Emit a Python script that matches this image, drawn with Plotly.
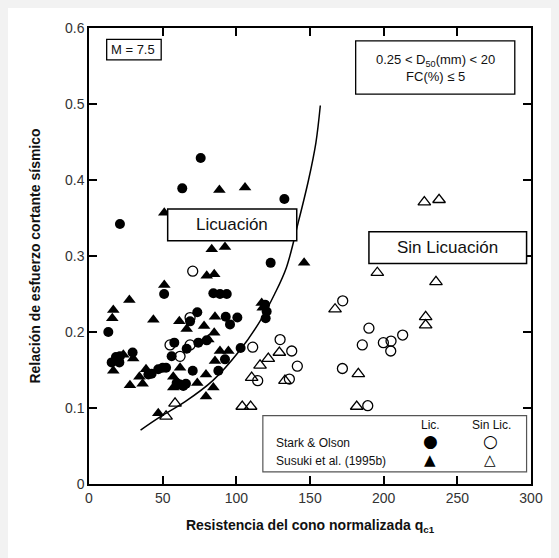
import plotly.graph_objects as go

# Stark & Olson - Licuación (filled circles)
so_lic_x = [75.8, 63.3, 132.6, 21, 123.3, 51, 84.4, 88.9, 93.5, 13.1, 73.5, 68.6, 92.8, 95.7, 100.7,
            119.5, 120.6, 119.9, 57.9, 66.3, 56.1, 74.2, 79.9, 15.4, 18.3, 21, 20.6, 29.6, 40.3, 42.5,
            47, 50, 52.3, 70.4, 61.8, 65.8, 64, 87.8, 92.3, 102.9, 59.5]
so_lic_y = [0.429, 0.389, 0.375, 0.342, 0.291, 0.250, 0.251, 0.250, 0.250, 0.200, 0.226, 0.214, 0.220, 0.210, 0.219,
            0.236, 0.227, 0.218, 0.186, 0.178, 0.168, 0.186, 0.189, 0.160, 0.167, 0.168, 0.160, 0.173, 0.144, 0.145,
            0.151, 0.153, 0.153, 0.149, 0.131, 0.132, 0.129, 0.149, 0.164, 0.179, 0.133]

# Susuki et al. (1995b) - Licuación (filled triangles)
su_lic_x = [88.5, 105.9, 51.1, 83.3, 92.3, 146, 79.9, 85, 51.1, 27.4, 16.5, 15.8, 43.7, 61.3, 66.3, 78.1,
            85.5, 117.2, 117.9, 85, 23.3, 30, 16.5, 27.8, 36.4, 38.7, 34.2, 61.8, 57.2, 73.5, 79.4, 84.4,
            79.4, 88.9, 94.6, 85.5, 47, 81, 57.2]
su_lic_y = [0.387, 0.390, 0.357, 0.309, 0.312, 0.291, 0.274, 0.276, 0.262, 0.242, 0.229, 0.218, 0.216, 0.214, 0.204, 0.208,
            0.220, 0.238, 0.232, 0.199, 0.170, 0.165, 0.149, 0.130, 0.132, 0.151, 0.141, 0.153, 0.141, 0.133, 0.144, 0.127,
            0.115, 0.175, 0.175, 0.162, 0.093, 0.190, 0.127]

# Stark & Olson - Sin Licuación (open circles)
so_nolic_x = [70.4, 68.6, 55, 61.8, 68.6, 111.1, 129.7, 137.6, 141.4, 136, 114.5, 172.2, 190, 185.5,
              199.8, 205, 212.9, 204.8, 172, 189.2]
so_nolic_y = [0.280, 0.219, 0.183, 0.168, 0.183, 0.180, 0.190, 0.175, 0.155, 0.138, 0.136, 0.241, 0.205, 0.183,
              0.186, 0.188, 0.196, 0.175, 0.152, 0.103]

# Susuki et al. (1995b) - Sin Licuación (open triangles)
su_nolic_x = [52.3, 58.4, 133, 129.2, 121.7, 116.1, 110.4, 104, 109.7, 227.6, 237.6, 195.7, 235.5, 167,
              228.5, 228.5, 182.8, 181.7]
su_nolic_y = [0.089, 0.106, 0.136, 0.173, 0.165, 0.156, 0.140, 0.102, 0.102, 0.371, 0.374, 0.278, 0.266, 0.230,
              0.220, 0.209, 0.145, 0.102]

# Boundary curve
curve_x = [35, 48, 65, 84, 102, 116, 126, 134, 142, 149, 154, 157]
curve_y = [0.071, 0.088, 0.108, 0.136, 0.175, 0.214, 0.250, 0.285, 0.344, 0.400, 0.449, 0.498]

x_ticks = [0, 50, 100, 150, 200, 250, 300]
y_ticks = [0, 0.1, 0.2, 0.3, 0.4, 0.5, 0.6]

FONT = "Liberation Sans, Arial, sans-serif"

fig = go.Figure()
fig.add_trace(go.Scatter(x=curve_x, y=curve_y, mode="lines",
                         line=dict(color="black", width=1.5, shape="spline"), hoverinfo="skip"))
fig.add_trace(go.Scatter(x=so_nolic_x, y=so_nolic_y, mode="markers",
                         marker=dict(symbol="circle-open", size=10, color="black", line=dict(width=1.3))))
fig.add_trace(go.Scatter(x=su_nolic_x, y=su_nolic_y, mode="markers",
                         marker=dict(symbol="triangle-up-open", size=11, color="black", line=dict(width=1.3))))
fig.add_trace(go.Scatter(x=so_lic_x, y=so_lic_y, mode="markers",
                         marker=dict(symbol="circle", size=10, color="black")))
fig.add_trace(go.Scatter(x=su_lic_x, y=su_lic_y, mode="markers",
                         marker=dict(symbol="triangle-up", size=11, color="black")))

shapes = [
    dict(type="rect", xref="x", yref="y", x0=12, x1=49, y0=0.558, y1=0.585,
         fillcolor="white", line=dict(color="black", width=1.3), layer="above"),
    dict(type="rect", xref="x", yref="y", x0=181, x1=289, y0=0.513, y1=0.583,
         fillcolor="white", line=dict(color="black", width=1.3), layer="above"),
    dict(type="rect", xref="x", yref="y", x0=53.4, x1=141, y0=0.320, y1=0.362,
         fillcolor="white", line=dict(color="black", width=1.5), layer="above"),
    dict(type="rect", xref="x", yref="y", x0=190, x1=297, y0=0.290, y1=0.332,
         fillcolor="white", line=dict(color="black", width=1.5), layer="above"),
    dict(type="rect", xref="x", yref="y", x0=118, x1=297, y0=0.016, y1=0.090,
         fillcolor="white", line=dict(color="#555555", width=1.2), layer="above"),
]

ann = [
    dict(x=13.5, y=0.5715, text="M = 7.5", xanchor="left", size=13),
    dict(x=235, y=0.548, text="0.25 &lt; D<sub>50</sub>(mm) &lt; 20<br>FC(%) ≤ 5", xanchor="center", size=13),
    dict(x=97.2, y=0.341, text="Licuación", xanchor="center", size=17),
    dict(x=243.5, y=0.311, text="Sin Licuación", xanchor="center", size=17),
    dict(x=125.5, y=0.0535, text="Stark &amp; Olson", xanchor="left", size=12),
    dict(x=125.5, y=0.030, text="Susuki et al. (1995b)", xanchor="left", size=12),
    dict(x=231.5, y=0.078, text="Lic.", xanchor="center", size=12),
    dict(x=273.5, y=0.078, text="Sin Lic.", xanchor="center", size=12),
]
annotations = []
for a in ann:
    annotations.append(dict(x=a["x"], y=a["y"], xref="x", yref="y", text=a["text"], showarrow=False,
                            xanchor=a["xanchor"], yanchor="middle", align="center",
                            font=dict(family=FONT, size=a["size"], color="#111111")))
# legend keys
for sym, xx, yy, sz in [("●", 231.5, 0.056, 17), ("○", 272.5, 0.056, 17),
                        ("▲", 231.5, 0.031, 15), ("△", 272.5, 0.031, 15)]:
    annotations.append(dict(x=xx, y=yy, xref="x", yref="y", text=sym, showarrow=False,
                            xanchor="center", yanchor="middle",
                            font=dict(family="DejaVu Sans", size=sz, color="black")))

fig.update_layout(
    width=551, height=550,
    margin=dict(l=81, r=28, t=16, b=74),
    paper_bgcolor="white", plot_bgcolor="white",
    showlegend=False,
    font=dict(family=FONT, color="#222222"),
    shapes=shapes, annotations=annotations,
)
fig.update_xaxes(range=[0, 300], tickvals=x_ticks, ticks="inside", ticklen=8, tickwidth=1.5,
                 tickcolor="black", showline=True, linecolor="black", linewidth=1.5, mirror="ticks",
                 showgrid=False, zeroline=False, tickfont=dict(size=14, color="#333333"),
                 title=dict(text="<b>Resistencia del cono normalizada q<sub>c1</sub></b>",
                            font=dict(size=14, color="#111111"), standoff=16))
fig.update_yaxes(range=[0, 0.6], tickvals=y_ticks, ticktext=[str(v) for v in y_ticks],
                 ticks="inside", ticklen=8, tickwidth=1.5,
                 tickcolor="black", showline=True, linecolor="black", linewidth=1.5, mirror="ticks",
                 showgrid=False, zeroline=False, tickfont=dict(size=14, color="#333333"),
                 title=dict(text="<b>Relación de esfuerzo cortante sísmico</b>",
                            font=dict(size=14, color="#111111"), standoff=21))

fig.write_html("out.html", post_script="document.body.style.background='#f2f2f2';")
